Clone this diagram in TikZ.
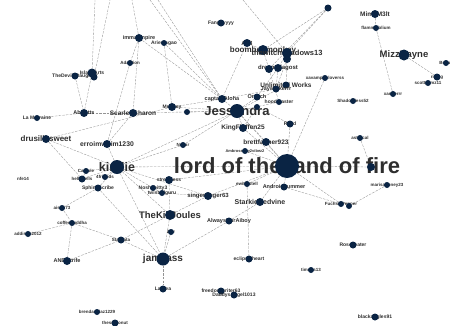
\documentclass[tikz,border=0pt]{standalone}
\usepackage{fontspec}
\setmainfont{Liberation Sans}
\usepackage{tikz}
\usetikzlibrary{positioning}
\pgfdeclarelayer{bg}
\pgfsetlayers{bg,main}
\definecolor{nodeblue}{RGB}{10,36,68}

\begin{document}
\begin{tikzpicture}[x=1pt,y=-1pt,
  dot/.style={circle,fill=nodeblue,inner sep=0pt},
  lbl/.style={inner sep=0pt,text=black!82},
  link/.style={black!42,line width=0.35pt,dash pattern=on 2.5pt off 1.2pt}]
\useasboundingbox (0,0) rectangle (450,325);
\newcommand{\usr}[6]{\node[lbl,font=\fontsize{#5}{#5}\selectfont\bfseries] (#1l) at (#2,#3) {#6}; \node[dot,minimum size=#4pt] (#1) at (#2,#3) {};}
\newcommand{\bare}[4]{\node[dot,minimum size=#4pt] (#1) at (#2,#3) {};}
\usr{fang}{221}{23}{7}{5}{Fangyyyyy}
\usr{mimi}{375}{14}{8}{6.5}{Mimi M3lt}
\usr{flam}{376}{28}{6}{4.5}{flammafolium}
\usr{mizz}{404}{55}{11}{9.5}{MizzRayne}
\usr{bell}{446}{63}{6}{4.5}{Bellus}
\usr{ling}{437}{77}{7}{4.5}{rising}
\usr{scot}{428}{83}{6}{4.5}{scottyemz11}
\usr{xan}{393}{94}{6}{4.5}{xanderrr}
\usr{shad}{353}{101}{6}{4.5}{Shadowless52}
\usr{xav}{325}{78}{6}{4.5}{xavampireloverss}
\bare{topr}{328}{8}{7}
\usr{imma}{139}{38}{8}{5.5}{immaempire}
\usr{arie}{164}{43}{6}{5}{Ariestagao}
\usr{adap}{130}{63}{6}{4.5}{Adaption}
\usr{tdev}{75}{76}{7}{5}{TheDevilsDaughter}
\usr{isla}{92}{73}{9}{5}{IslandArts}
\bare{isl2}{94}{77}{7}
\usr{aeight}{247}{43}{8}{6}{A18}
\usr{boom}{263}{50}{10}{8}{boomboxmonkey}
\usr{witch}{287}{53}{10}{7.5}{thewitchshadows13}
\bare{witch2}{287}{59}{8}
\usr{dream}{278}{68}{8}{6}{dreamofagost}
\bare{dream2}{269}{69}{8}
\usr{unlim}{286}{85}{7}{6.5}{Unlimited Works}
\usr{jay}{276}{89}{7}{5.5}{Jaywalkerrr}
\usr{mast}{279}{102}{6}{5}{hoodmaster}
\usr{orz}{257}{97}{7}{5.5}{Orzech}
\usr{aloha}{222}{99}{8}{5.5}{captainAloha}
\usr{mr}{172}{107}{8}{5}{Mr.Grey}
\bare{mr2}{187}{112}{6}
\usr{jess}{237}{111}{14}{13}{Jessondra}
\bare{jess2}{257}{107}{6}
\usr{king}{243}{128}{8}{6.5}{KingFluffen25}
\usr{rt}{290}{124}{7}{5}{Rand}
\usr{nssar}{183}{145}{6}{4.5}{Nssar}
\usr{brett}{266}{142}{8}{6.5}{brettfanner923}
\usr{ambr}{245}{151}{6}{4}{Ambroseguy2vibez2}
\usr{lord}{287}{166}{24}{22}{lord of the land of fire}
\usr{astral}{360}{138}{6}{4.5}{astrocal}
\bare{fire}{371}{167}{8}
\usr{marisa}{387}{185}{6}{4.5}{marisahoney23}
\usr{fuch}{341}{204}{6}{4.5}{FuchsiaPepper}
\bare{fuch2}{349}{206}{6}
\usr{andr}{284}{187}{7}{5.5}{Androidsummer}
\usr{ewing}{247}{184}{6}{4.5}{ewingstell}
\usr{stark}{260}{202}{8}{7}{StarkieRedvine}
\usr{singer}{208}{196}{8}{6}{singerfinger63}
\usr{nosh}{169}{180}{8}{5}{stressless}
\usr{nosh2}{153}{188}{6}{5}{Noshabitty3}
\usr{nosh3}{162}{193}{6}{5}{twistedguru}
\usr{kir}{117}{167}{14}{12.5}{kiralie}
\usr{erro}{107}{144}{8}{6.8}{erroimwhim1230}
\usr{drus}{46}{139}{8}{8}{drusillasweet}
\usr{lamo}{37}{118}{6}{5}{La Morraine}
\usr{abbi}{84}{113}{8}{5.5}{Abbirtts}
\usr{scar}{133}{113}{8}{6.5}{ScarlettSharon}
\usr{carl}{86}{171}{6}{4.5}{Carlisle}
\usr{hell}{82}{179}{7}{4.5}{hellsbells}
\usr{nds}{105}{177}{6}{4.5}{4friends}
\usr{sphx}{98}{188}{7}{5}{SphinxScribe}
\node[lbl,font=\fontsize{4.5}{4.5}\selectfont\bfseries] (nfe) at (23,179) {nfe14};
\usr{aisu}{62}{208}{6}{4.5}{aisu573}
\usr{coff}{72}{223}{6}{4.5}{coffeebuddha}
\usr{addi}{28}{234}{6}{4.5}{addison2012}
\usr{star}{121}{240}{7}{4.5}{Stardata}
\usr{anbi}{67}{261}{8}{5.5}{ANBIstrife}
\usr{tkj}{170}{215}{10}{9.5}{TheKillJoules}
\usr{zr}{171}{232}{6}{4.5}{Zair}
\usr{jam}{163}{259}{13}{10}{jampass}
\usr{alw}{229}{221}{7}{5.5}{AlwaysKurAiboy}
\usr{ecl}{249}{259}{7}{5}{eclipse heart}
\usr{lath}{163}{289}{7}{5}{Lathea}
\usr{free}{221}{291}{7}{5}{freedomwriter63}
\usr{dadd}{234}{295}{7}{5}{DaddysAngel1013}
\usr{rose}{353}{245}{7}{5}{RoseTeater}
\usr{time}{311}{270}{6}{4.5}{timebs13}
\usr{blck}{375}{317}{7}{5}{blackangles91}
\usr{bren}{97}{312}{6}{4.5}{brendanxlaz1229}
\usr{thes}{115}{323}{7}{4.5}{thesmdonut}
\coordinate (t1) at (95,0);
\coordinate (t2) at (110,0);
\coordinate (t3) at (132,0);
\coordinate (t4) at (150,0);
\coordinate (t5) at (158,0);
\coordinate (t6) at (243,0);
\begin{pgfonlayer}{bg}
\foreach \a/\b in {isla/t1,isl2/t2,imma/t3,t4/aloha,t5/aloha,t6/witch,topr/boom,topr/witch,topr/dream2,
  imma/adap,imma/scar,adap/erro,arie/mr,imma/aloha,arie/aloha,tdev/abbi,isla/abbi,
  aeight/aloha,aeight/boom,boom/witch,boom/dream2,witch/dream,witch2/unlim,dream/jay,dream/orz,dream2/mast,
  witch2/jay,unlim/jess,jay/aloha,orz/jess,mast/jess,aloha/jess,aloha/mr,mr/jess,mr2/jess,jess/king,
  jess/brett,jess/lord,jess/kir,jess/scar,jess2/king,king/lord,brett/lord,ambr/lord,rt/lord,xav/lord,
  rt/jess2,astral/fire,fire/lord,lord/fuch,marisa/fuch2,andr/fuch,lord/andr,lord/ewing,lord/stark,
  lord/singer,lord/kir,lord/nosh,ewing/ecl,alw/stark,alw/jam,mimi/flam,flam/xan,mizz/ling,kir/erro,
  kir/drus,kir/carl,kir/hell,kir/nds,kir/sphx,kir/nosh2,kir/tkj,kir/jam,kir/singer,drus/mr,lamo/abbi,
  abbi/scar,scar/erro,sphx/jam,sphx/aisu,aisu/coff,coff/addi,coff/anbi,coff/star,anbi/star,star/tkj,
  star/jam,tkj/jam,zr/jam,jam/lath,nosh/tkj,nosh2/nosh3,nosh3/singer,singer/tkj,nssar/kir,nssar/jess,
  hell/carl,drus/hell}
  \draw[link] (\a) -- (\b);
\end{pgfonlayer}
\end{tikzpicture}
\end{document}
